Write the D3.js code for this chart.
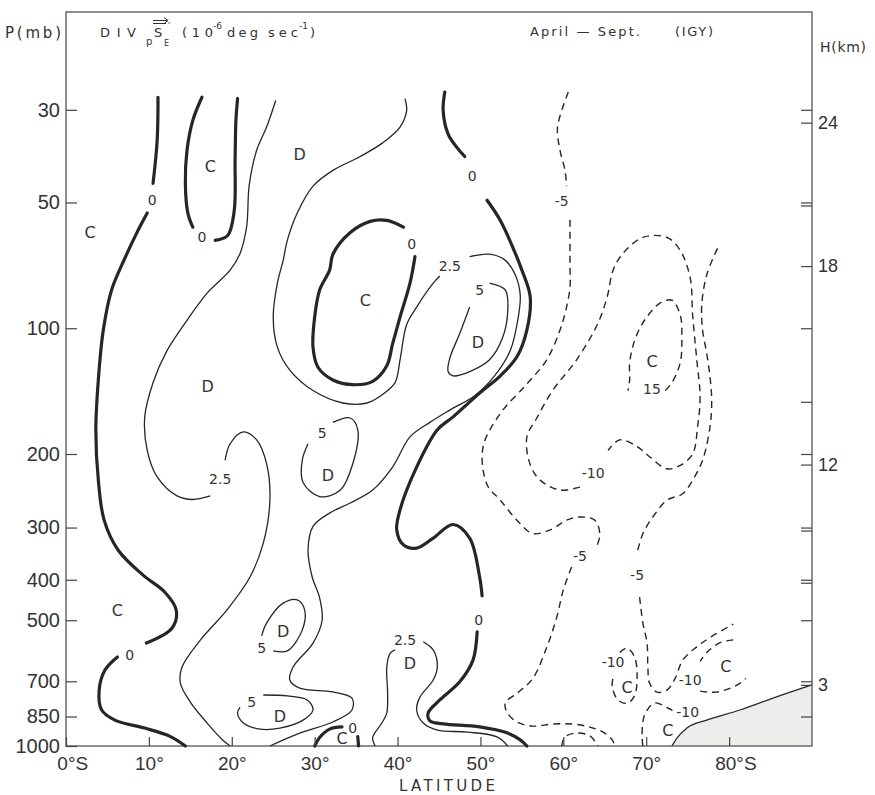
<!DOCTYPE html>
<html>
<head>
<meta charset="utf-8">
<script src="https://cdn.jsdelivr.net/npm/d3@7"></script>
<style>
  body { margin: 0; background: #fff; }
  svg { display: block; font-family: "DejaVu Sans", sans-serif; }
  .axis text { fill: #333; }
  .axis line { stroke: #444; stroke-width: 1.2; }
  .label { fill: #333; text-anchor: middle; }
</style>
</head>
<body>
<div id="chart"></div>
<script>
// axis values
const latTicks = [0, 10, 20, 30, 40, 50, 60, 70, 80];
const latTickLabels = ['0°S', '10°', '20°', '30°', '40°', '50°', '60°', '70°', '80°S'];
const pressureTicks = [30, 50, 100, 200, 300, 400, 500, 700, 850, 1000];
const rightPressureTicks = [30, 50, 100, 150, 200, 300, 400, 500, 700, 850];
const doublePressureTicks = [50, 300, 400];
const heightLabels = ['24', '18', '12', '3'];
const heightPressure = [32.2, 71, 212, 714];

// contours as [latitude °S, pressure mb]; pieces are broken where a label sits
const zeroLines = [
  [[11.1, 28], [11.0, 35.5], [10.5, 45]],
  [[9.8, 53], [8.6, 58.8], [7.1, 68], [5.5, 81], [4.5, 101], [3.9, 133], [3.6, 175], [3.9, 231],
    [4.6, 288], [6.3, 340], [9.3, 390], [11.9, 428], [13.3, 473], [12.8, 522], [9.7, 567]],
  [[6.2, 612], [4.7, 658], [4.0, 735], [4.3, 820], [5.9, 867], [9.5, 906], [12.5, 947], [14.4, 1000]],
  [[16.4, 28], [15.3, 31.8], [14.6, 37.5], [14.4, 45], [14.7, 53], [15.3, 57.3]],
  [[18.0, 61.6], [19.5, 60], [20.3, 52.2], [20.4, 39.6], [20.5, 31.8], [20.7, 28.2]],
  [[42.1, 67.4], [41.5, 78], [40.3, 94], [39.4, 109], [38.7, 123], [37.0, 134], [34.6, 136.5],
    [32.2, 133], [30.4, 124], [29.8, 111], [30.0, 94], [30.6, 81], [31.8, 72.6], [32.2, 66.5],
    [34.3, 59], [36.7, 55.5], [38.7, 55.2], [40.7, 57.3]],
  [[45.7, 27.2], [45.5, 30.1], [46.1, 34.3], [47.2, 37], [48.1, 38.8]],
  [[50.8, 49.4], [52.4, 55.2], [53.9, 64], [55.0, 72.6], [56.0, 84], [55.6, 101], [54.4, 117],
    [52.4, 130], [49.9, 143], [46.7, 163], [44.8, 175], [42.3, 215], [40.3, 272], [39.9, 304],
    [40.7, 330], [42.3, 336], [44.3, 318], [46.7, 295], [48.7, 318], [49.9, 394], [50.2, 437]],
  [[49.6, 533], [49.1, 623], [47.5, 702], [45.1, 776], [43.7, 833], [43.9, 871], [45.5, 885],
    [49.9, 900], [53.2, 930], [54.8, 967], [55.6, 1000]],
  [[30.0, 1000], [30.6, 954], [31.8, 911], [33.3, 900]],
  [[35.2, 950], [35.3, 1000]],
];

const positiveLines = [
  [[25.3, 28.5], [24.2, 33], [23.0, 37.5], [22.1, 45.5], [21.8, 57], [21.0, 66.2], [19.8, 72.6],
    [17.0, 82.5], [14.6, 95.7], [12.2, 113], [10.5, 135], [9.5, 163], [9.8, 196], [11.0, 227],
    [13.4, 252], [15.3, 257], [17.4, 252]],
  [[19.2, 207], [19.8, 189], [21.4, 177], [23.0, 185], [24.2, 211], [24.6, 258], [23.8, 327],
    [22.2, 394], [19.4, 473], [16.2, 558], [14.0, 647], [13.8, 707], [15.0, 785], [17.0, 880],
    [18.9, 967], [19.8, 1000]],
  [[40.9, 28.2], [41.1, 30.1], [40.3, 33], [38.2, 36], [35.5, 38.8], [32.2, 41.9], [29.8, 45.7],
    [27.9, 53], [26.7, 61.6], [26.2, 68.8], [25.5, 78], [25.0, 94], [25.5, 111], [27.0, 126],
    [29.8, 141], [33.4, 151], [36.3, 151], [38.2, 144], [39.7, 135], [40.3, 119], [41.1, 98],
    [42.3, 89], [44.3, 78], [45.1, 75]],
  [[48.7, 67.4], [51.1, 66.5], [53.0, 68.8], [54.2, 74.5], [54.8, 83.4], [54.5, 95.7], [53.6, 113],
    [51.7, 130], [49.3, 145], [46.3, 157], [43.9, 168], [41.5, 182], [39.4, 215], [37.0, 244],
    [34.3, 262], [31.8, 277], [29.8, 298], [29.2, 340], [29.7, 394], [30.6, 442], [30.9, 500],
    [29.8, 567], [27.4, 647], [27.0, 695], [28.2, 727], [32.2, 742], [34.5, 768], [34.5, 820],
    [32.2, 876], [28.2, 931], [24.6, 1000]],
  [[37.3, 1000], [37.0, 954], [38.1, 881], [38.7, 834], [38.8, 747], [38.7, 647], [39.1, 600], [39.7, 589]],
  [[43.1, 563], [44.3, 589], [44.8, 647], [44.3, 695], [42.7, 764], [42.3, 820], [43.1, 881],
    [44.8, 916], [48.4, 926], [52.0, 951], [53.3, 1000]],
  [[51.1, 78], [53.0, 81], [53.3, 90.5], [52.7, 105], [51.1, 119], [48.7, 127], [46.7, 130],
    [46.1, 127], [46.3, 118], [47.5, 103], [48.7, 89]],
  [[32.2, 168], [34.3, 164], [35.2, 175], [34.6, 211], [33.1, 244], [30.6, 253], [28.6, 234],
    [28.5, 207], [29.2, 189]],
  [[25.0, 592], [26.7, 592], [28.5, 528], [28.8, 473], [27.9, 447], [26.2, 455], [24.2, 508], [23.6, 545]],
  [[23.8, 755], [26.7, 759], [29.1, 776], [29.8, 820], [28.6, 867], [25.8, 906], [23.4, 911],
    [21.4, 881], [20.7, 834], [21.0, 807]],
];

const negativeLines = [
  [[60.6, 27.2], [59.3, 33], [59.6, 37.5], [60.2, 41.9], [60.4, 45.7]],
  [[60.8, 55], [60.8, 64], [60.8, 70.5], [60.8, 80], [60.3, 90.5], [59.6, 101], [58.0, 119],
    [55.6, 136], [52.4, 160], [50.3, 193], [50.8, 237], [52.4, 258], [54.4, 288], [56.3, 310],
    [58.4, 304], [60.4, 288], [62.0, 283], [63.8, 288], [64.4, 311], [64.1, 330]],
  [[61.0, 373], [60.0, 423], [59.2, 492], [58.0, 580], [56.3, 690], [54.4, 748], [53.0, 789],
    [53.2, 830], [54.4, 876], [56.3, 896], [58.7, 886], [61.2, 886], [63.2, 901], [64.8, 926],
    [65.9, 967], [66.2, 1000]],
  [[59.8, 1000], [60.2, 951], [61.6, 931], [63.2, 946], [64.2, 1000]],
  [[62.0, 240], [59.6, 244], [57.2, 231], [56.0, 212], [55.6, 182], [56.8, 164], [58.7, 141],
    [61.6, 119], [64.1, 98], [65.3, 84], [66.0, 72.6], [67.2, 66.2], [69.6, 60.6], [72.5, 60.6],
    [74.1, 65.1], [75.3, 75.7], [75.6, 93], [76.1, 119], [76.5, 146], [76.2, 172], [75.6, 200],
    [74.1, 213], [72.5, 217], [70.4, 203], [68.9, 192], [66.8, 185], [65.4, 196]],
  [[72.3, 141], [73.1, 135], [74.1, 121], [74.3, 105], [74.1, 93], [73.1, 85.7], [71.7, 87],
    [69.8, 95.7], [68.6, 107], [68.0, 121], [68.0, 133], [67.8, 141]],
  [[78.6, 64.4], [77.3, 74.5], [76.7, 88], [76.8, 101], [77.3, 115], [77.7, 131], [77.9, 149],
    [77.7, 172], [76.8, 207], [75.6, 231], [74.4, 249], [72.5, 258], [70.8, 283], [69.6, 310], [68.9, 345]],
  [[69.2, 440], [69.6, 508], [70.1, 567], [70.2, 647], [70.4, 707], [71.3, 743], [72.5, 735],
    [73.5, 688], [74.4, 623], [76.1, 579], [78.0, 545], [80.5, 511]],
  [[80.5, 557], [78.9, 566], [77.4, 595], [76.5, 627]],
  [[76.5, 739], [78.5, 743], [81.0, 714], [82.0, 689]],
  [[66.8, 597], [67.7, 583], [68.6, 613], [68.9, 676], [68.6, 757], [67.7, 790], [66.6, 776], [65.9, 722], [66.0, 684]],
  [[69.6, 1000], [69.5, 944], [69.8, 843], [71.0, 789], [72.6, 811], [73.7, 834]],
];

// shaded ground (Antarctic plateau)
const groundLat = [73.1, 73.7, 74.9, 77.3, 81.3, 85.3, 90];
const groundP = [1000, 957, 906, 867, 820, 768, 714];

// isoline values written on the lines: [text, lat, mb]
const valueLabels = [
  ['0', 10.4, 49.4], ['0', 7.7, 604], ['0', 16.4, 60.6], ['0', 41.7, 63], ['0', 49.0, 43.3],
  ['0', 49.8, 500], ['0', 34.6, 906],
  ['2.5', 18.6, 229], ['2.5', 46.3, 70.8], ['2.5', 40.9, 558],
  ['5', 49.9, 81], ['5', 30.9, 178], ['5', 23.6, 581], ['5', 22.4, 785],
  ['-5', 59.8, 49.6], ['-5', 62.0, 350], ['-5', 68.9, 390],
  ['-10', 63.6, 222], ['-10', 66.0, 629], ['-10', 75.3, 695], ['-10', 75.0, 829],
  ['15', 70.7, 140],
];
// convergence / divergence centres
const centreLabels = [
  ['C', 2.9, 59], ['C', 17.4, 41], ['D', 28.2, 38.3], ['C', 36.1, 85.7], ['D', 17.1, 138],
  ['D', 49.7, 108], ['D', 31.6, 225], ['C', 6.2, 473], ['D', 26.2, 531], ['D', 25.8, 848],
  ['D', 41.5, 632], ['C', 33.3, 957], ['C', 70.7, 120], ['C', 67.7, 722], ['C', 79.6, 643],
  ['C', 72.6, 916],
];

const width = 875;
const height = 795;
const plotLeft = 66;
const plotRight = 812;
const plotTop = 12;
const plotBottom = 746;
const ink = '#262626';

const svg = d3.select('#chart')
  .append('svg')
  .attr('width', width)
  .attr('height', height);

const x = d3.scaleLinear().domain([0, 90]).range([plotLeft, plotRight]);
const y = d3.scaleLog().domain([1000, 17.5]).range([plotBottom, plotTop]);

const line = d3.line()
  .x(d => x(d[0]))
  .y(d => y(d[1]))
  .curve(d3.curveCatmullRom.alpha(0.5));

const ground = d3.zip(groundLat, groundP);
svg.append('path')
  .datum(ground)
  .attr('d', d3.area().x(d => x(d[0])).y0(plotBottom).y1(d => y(d[1])).curve(d3.curveMonotoneX))
  .attr('fill', '#ededeb');
svg.append('path')
  .datum(ground)
  .attr('d', d3.line().x(d => x(d[0])).y(d => y(d[1])).curve(d3.curveMonotoneX))
  .attr('fill', 'none')
  .attr('stroke', ink)
  .attr('stroke-width', 1.3);

// frame
svg.append('rect')
  .attr('x', plotLeft)
  .attr('y', plotTop)
  .attr('width', plotRight - plotLeft)
  .attr('height', plotBottom - plotTop)
  .attr('fill', 'none')
  .attr('stroke', '#555')
  .attr('stroke-width', 1.3);

// contours
svg.append('g').selectAll('path')
  .data(positiveLines)
  .enter()
  .append('path')
  .attr('d', line)
  .attr('fill', 'none')
  .attr('stroke', ink)
  .attr('stroke-width', 1.3);

svg.append('g').selectAll('path')
  .data(negativeLines)
  .enter()
  .append('path')
  .attr('d', line)
  .attr('fill', 'none')
  .attr('stroke', ink)
  .attr('stroke-width', 1.4)
  .attr('stroke-dasharray', '7,5');

svg.append('g').selectAll('path')
  .data(zeroLines)
  .enter()
  .append('path')
  .attr('d', line)
  .attr('fill', 'none')
  .attr('stroke', ink)
  .attr('stroke-width', 3.2)
  .attr('stroke-linecap', 'round');

svg.append('g').selectAll('text')
  .data(valueLabels)
  .enter()
  .append('text')
  .attr('class', 'label')
  .attr('x', d => x(d[1]))
  .attr('y', d => y(d[2]))
  .attr('dy', '0.36em')
  .style('font-size', '14px')
  .text(d => d[0]);

svg.append('g').selectAll('text')
  .data(centreLabels)
  .enter()
  .append('text')
  .attr('class', 'label')
  .attr('x', d => x(d[1]))
  .attr('y', d => y(d[2]))
  .attr('dy', '0.36em')
  .style('font-size', '16px')
  .text(d => d[0]);

// axes
svg.append('g')
  .attr('class', 'axis')
  .attr('transform', `translate(${plotLeft}, 0)`)
  .call(d3.axisLeft(y).tickValues(pressureTicks).tickFormat(d3.format('d')).tickSize(-11).tickPadding(6))
  .call(g => g.select('.domain').remove())
  .call(g => g.selectAll('text').style('font-size', '20px'));

svg.append('g')
  .attr('class', 'axis')
  .attr('transform', `translate(0, ${plotBottom})`)
  .call(d3.axisBottom(x).tickValues(latTicks).tickFormat((d, i) => latTickLabels[i]).tickSize(-9).tickPadding(11))
  .call(g => g.select('.domain').remove())
  .call(g => g.selectAll('text')
    .style('font-size', '19px')
    .attr('dx', (d, i) => (latTickLabels[i].endsWith('S') ? '0.33em' : 0)));

svg.append('g')
  .attr('class', 'axis')
  .attr('transform', `translate(${plotRight}, 0)`)
  .call(d3.axisRight(y).tickValues(rightPressureTicks).tickFormat('').tickSize(-11))
  .call(g => g.select('.domain').remove());

svg.append('g')
  .attr('class', 'axis')
  .attr('transform', `translate(${plotRight}, 3)`)
  .call(d3.axisRight(y).tickValues(doublePressureTicks).tickFormat('').tickSize(-11))
  .call(g => g.select('.domain').remove());

svg.append('g')
  .attr('class', 'axis')
  .attr('transform', `translate(${plotRight}, 0)`)
  .call(d3.axisRight(y).tickValues(heightPressure).tickFormat((d, i) => heightLabels[i]).tickSize(-11).tickPadding(6))
  .call(g => g.select('.domain').remove())
  .call(g => g.selectAll('text').style('font-size', '18px'));

// titles
function addText(str, tx, ty, size, len) {
  const t = svg.append('text')
    .attr('x', tx)
    .attr('y', ty)
    .attr('fill', '#333')
    .style('font-size', `${size}px`)
    .text(str);
  if (len) t.attr('textLength', len).attr('lengthAdjust', 'spacing');
  return t;
}

addText('P(mb)', 5, 38, 15, 56);
addText('H(km)', 820, 52, 14, 46);
addText('LATITUDE', 399, 791, 15, 96);

addText('DIV', 100, 37, 13, 36);
addText('p', 146, 45, 10);
addText('S', 154, 37, 13);
addText('E', 164, 46, 8);
addText('′', 168, 30, 10);
addText('(10', 182, 37, 13, 31);
addText('-6', 213, 29, 9);
addText('deg', 227, 37, 13, 31);
addText('sec', 268, 37, 13, 30);
addText('-1', 299, 29, 9);
addText(')', 310, 37, 13);
addText('April — Sept.', 530, 36, 13, 110);
addText('(IGY)', 675, 36, 13, 38);

// arrow over S'E
svg.append('path')
  .attr('d', 'M153,20.5 H168 M164,17.5 L168,20.5 L164,23.5 M153,23.5 H166')
  .attr('fill', 'none')
  .attr('stroke', '#333')
  .attr('stroke-width', 1);
</script>
</body>
</html>
